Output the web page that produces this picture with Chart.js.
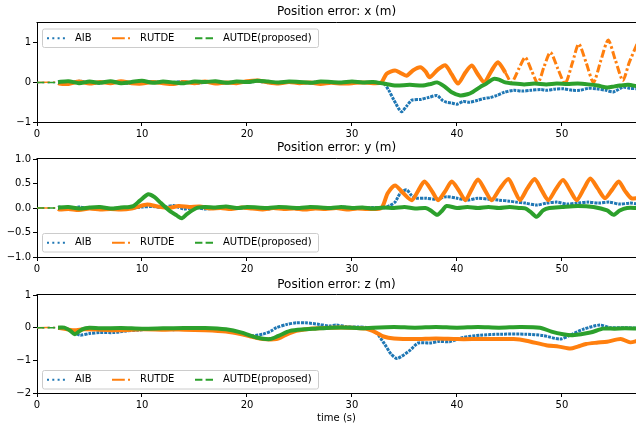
<!DOCTYPE html>
<html>
<head>
<meta charset="utf-8">
<script src="https://cdn.jsdelivr.net/npm/chart.js@4.4.0/dist/chart.umd.min.js"></script>
<style>
  html, body { margin: 0; padding: 0; background: #fff; overflow: hidden; }
  canvas { position: absolute; left: 0; }
</style>
</head>
<body>
<canvas id="panelX" width="636" height="140" style="top:0"></canvas>
<canvas id="panelY" width="636" height="137" style="top:140px"></canvas>
<canvas id="panelZ" width="636" height="151" style="top:277px"></canvas>
<script>
// ---- data (time s, error m) ----
const seriesNames = ['AIB', 'RUTDE', 'AUTDE(proposed)'];
const seriesColors = ['#1f77b4', '#ff7f0e', '#2ca02c'];
const panelTitles = ['Position error: x (m)', 'Position error: y (m)', 'Position error: z (m)'];
const xTicksStep = 10;
const timeMax = 57.05;

const xAIB = [[0,0],[2,0],[2.1,0.02],[3,-0.02],[4,0.03],[5,0],[6,-0.02],[7,0.02],[8,0],[9,-0.03],[10,0.01],[11,0.02],[12,-0.01],[13,0],[14,0.02],[15,-0.02],[16,0],[17,0.01],[18,-0.01],[19,0.02],[20,0],[21,0.03],[22,0],[23,-0.02],[24,0.01],[25,0],[26,-0.01],[27,0.02],[28,0],[29,-0.02],[30,0.01],[31,0],[32,0],[33,-0.02],[33.5,-0.2],[34,-0.45],[34.7,-0.74],[35.2,-0.6],[35.7,-0.45],[36.5,-0.43],[37.3,-0.38],[38.1,-0.33],[38.6,-0.45],[39,-0.5],[39.5,-0.52],[40,-0.55],[40.6,-0.48],[41.2,-0.5],[42,-0.45],[42.5,-0.41],[43.2,-0.38],[43.8,-0.33],[44.5,-0.25],[45.4,-0.2],[46.2,-0.22],[47,-0.2],[48,-0.18],[48.5,-0.2],[49.3,-0.17],[50.1,-0.16],[51,-0.2],[51.7,-0.2],[52.5,-0.15],[53.3,-0.16],[54.2,-0.2],[54.9,-0.24],[55.8,-0.12],[56.5,-0.15],[57.2,-0.16]];
const xRUTDE = [[0,0],[2,0],[2.1,-0.03],[3,-0.04],[4,0.02],[5,-0.03],[6,0.01],[7,-0.02],[8,0.03],[9,-0.02],[10,-0.03],[11,0.01],[12,-0.02],[13,-0.04],[14,0.01],[15,-0.02],[16,0.02],[17,-0.03],[18,0],[19,-0.02],[20,0.03],[21,0.05],[22,0],[23,-0.03],[24,0.01],[25,-0.02],[26,0],[27,-0.04],[28,-0.01],[29,-0.03],[30,-0.02],[31,0],[32,-0.02],[32.8,0],[33.3,0.22],[34.1,0.3],[34.6,0.24],[35.2,0.17],[35.8,0.3],[36.5,0.38],[37,0.28],[37.4,0.13],[38.2,0.33],[38.9,0.43],[39.5,0.2],[40.1,-0.03],[40.8,0.25],[41.4,0.43],[42,0.2],[42.6,0],[43.3,0.3],[43.9,0.51],[44.6,0.25],[45.2,0],[45.9,0.35],[46.5,0.63],[47.1,0.3],[47.7,-0.02],[48.3,0.4],[48.9,0.76],[49.6,0.35],[50.3,-0.03],[51,0.5],[51.6,0.97],[52.3,0.5],[53,0],[53.7,0.55],[54.4,1.07],[55.1,0.55],[55.8,0.05],[56.4,0.5],[57.2,1.0]];
const xAUTDE = [[0,0],[2,0],[2.1,0.01],[3,0.03],[4,-0.02],[5,0.02],[6,-0.01],[7,0.03],[8,-0.02],[9,0.01],[10,0.04],[11,-0.01],[12,0.02],[13,0],[14,-0.02],[15,0.02],[16,0.01],[17,0.03],[18,-0.01],[19,0.02],[20,0.01],[21,0.04],[22,0.02],[23,0],[24,0.02],[25,0.01],[26,-0.01],[27,0.02],[28,0.01],[29,0],[30,0.02],[31,0],[32,0.01],[33,-0.03],[34.2,-0.08],[35.5,-0.06],[36.7,-0.08],[37.5,-0.04],[38.1,0],[38.8,-0.1],[39.5,-0.25],[40.3,-0.33],[41,-0.3],[41.5,-0.24],[42.2,-0.12],[42.8,-0.03],[43.5,0.09],[44,0.07],[44.6,0],[45.4,-0.03],[46.4,-0.05],[47.4,-0.03],[48.5,-0.05],[49.5,-0.03],[50.5,-0.04],[51.5,-0.03],[52.5,-0.05],[53.4,-0.08],[54.3,-0.13],[55,-0.1],[55.5,-0.08],[56.3,-0.06],[57.2,-0.1]];

const yAIB = [[0,0],[2,0],[2.1,0.02],[3,-0.02],[4,0.02],[5,-0.01],[6,0.01],[7,-0.02],[8,0.01],[9,0],[10,0.02],[11,0.03],[12,0.01],[13,0.05],[14,-0.02],[15,0.01],[16,-0.02],[17,0],[18,0.02],[19,-0.01],[20,0.01],[21,0],[22,-0.02],[23,0.01],[24,0],[25,-0.02],[26,0.01],[27,0],[28,-0.01],[29,0.02],[30,0],[31,-0.01],[32,0.01],[33,0],[33.6,0.05],[34.1,0.12],[34.6,0.3],[35.2,0.37],[35.7,0.25],[36.1,0.2],[37,0.2],[38,0.18],[39,0.23],[40,0.2],[41,0.16],[42,0.2],[43,0.18],[44,0.16],[45,0.14],[45.6,0.12],[46.5,0.1],[47.6,0.06],[48.5,0.1],[49.5,0.12],[50.5,0.08],[51.5,0.1],[52.5,0.12],[53.5,0.1],[54.5,0.12],[55.5,0.08],[56.5,0.1],[57.2,0.08]];
const yRUTDE = [[0,0],[2,0],[2.1,-0.03],[3,-0.02],[4,-0.04],[5,-0.01],[6,-0.03],[7,-0.02],[8,-0.03],[9,-0.01],[9.5,0.02],[10.5,0.07],[11.5,0.03],[12.5,0],[13.5,0.04],[14.5,0.02],[15.5,0.03],[16.5,-0.01],[17.5,0],[18.5,-0.02],[19.5,0.01],[20.5,-0.01],[21.5,-0.03],[22.5,0],[23.5,-0.02],[24.5,-0.01],[25.5,-0.03],[26.5,-0.01],[27.5,-0.02],[28.5,0],[29.5,-0.03],[30.5,-0.01],[31.5,-0.02],[32.8,0],[33.4,0.3],[34.1,0.46],[34.9,0.3],[35.7,0.16],[36.3,0.35],[36.9,0.54],[37.6,0.35],[38.2,0.16],[38.9,0.35],[39.5,0.54],[40.2,0.35],[40.8,0.16],[41.4,0.38],[42,0.58],[42.7,0.35],[43.3,0.16],[44.1,0.4],[44.9,0.59],[45.5,0.35],[46,0.16],[46.7,0.4],[47.4,0.59],[48.1,0.35],[48.7,0.16],[49.4,0.38],[50.1,0.57],[50.8,0.35],[51.4,0.16],[52.1,0.4],[52.7,0.6],[53.4,0.4],[54.1,0.2],[54.8,0.38],[55.4,0.54],[56,0.35],[56.6,0.2],[57.2,0.2]];
const yAUTDE = [[0,0],[2,0],[2.1,0.01],[3,0.02],[4,-0.01],[5,0.01],[6,0.02],[7,-0.01],[8,0.01],[8.8,0.02],[9.2,0.04],[9.8,0.15],[10.6,0.28],[11.2,0.22],[11.8,0.1],[12.7,-0.07],[13.3,-0.15],[13.8,-0.21],[14.3,-0.12],[15.2,0],[16,0.02],[17,0.01],[18,0.03],[19,0],[20,0.02],[21,0.01],[22,0],[23,0.02],[24,0.01],[25,0],[26,0.02],[27,0.01],[28,0],[29,0.02],[30,0],[31,0.01],[32,-0.01],[33,0.01],[34,0],[35,0.02],[36,-0.01],[37,0],[37.5,-0.05],[38.1,-0.14],[38.6,-0.05],[39,0.04],[40,0],[41,0.02],[42,0],[43,0.02],[44,0],[45,0.02],[46,0],[46.5,-0.01],[47,-0.08],[47.6,-0.18],[48.2,-0.05],[48.8,0],[50,0.02],[51.5,0.04],[53,0.02],[54.3,-0.05],[54.9,-0.14],[55.5,-0.05],[56.2,0],[57.2,0]];

const zAIB = [[0,0],[2,0],[2.5,-0.02],[3,-0.05],[3.6,-0.15],[4.1,-0.23],[5,-0.18],[6,-0.15],[7.3,-0.15],[8.5,-0.1],[9.5,-0.08],[10.5,-0.05],[12,-0.05],[13,-0.06],[14,-0.04],[15,-0.05],[16,-0.03],[17,-0.05],[18,-0.08],[19,-0.15],[20.3,-0.25],[21.5,-0.2],[22.3,-0.1],[22.8,0],[23.8,0.1],[24.7,0.15],[25.6,0.15],[26.9,0.1],[27.8,0.05],[28.5,0.08],[29.5,0.03],[30.5,0.02],[31.4,0],[32.3,-0.15],[33.1,-0.5],[33.7,-0.8],[34.3,-0.94],[35.5,-0.7],[36.3,-0.47],[37.4,-0.47],[38.3,-0.42],[39.3,-0.43],[40.6,-0.3],[42.2,-0.23],[44.1,-0.2],[46.6,-0.2],[48.2,-0.24],[49.8,-0.35],[50.7,-0.24],[52,-0.05],[53.6,0.08],[54.6,0],[56,0],[57.2,-0.02]];
const zRUTDE = [[0,0],[2,0],[2.5,-0.03],[3.5,-0.08],[4.5,-0.05],[6,-0.06],[8,-0.08],[10,-0.05],[12,-0.06],[14,-0.06],[16,-0.08],[18,-0.12],[19.5,-0.2],[20.5,-0.28],[21.5,-0.35],[22.8,-0.35],[23.7,-0.22],[24.7,-0.1],[26,-0.03],[28,0],[30,0],[31.3,-0.03],[32.3,-0.15],[33,-0.27],[34,-0.33],[36,-0.35],[38,-0.33],[40,-0.35],[42,-0.35],[44,-0.35],[45.4,-0.35],[46.6,-0.4],[48.5,-0.54],[49.7,-0.58],[50.8,-0.64],[51.5,-0.58],[52.3,-0.5],[53.3,-0.46],[54.3,-0.43],[55.6,-0.35],[56.5,-0.45],[57.2,-0.4]];
const zAUTDE = [[0,0],[2,0],[2.6,0],[3.2,-0.1],[3.6,-0.2],[4.3,-0.05],[5,0],[6,-0.02],[8,-0.01],[10,-0.03],[12,-0.02],[14,-0.01],[16,-0.01],[18,-0.05],[19.5,-0.15],[20.9,-0.3],[22.2,-0.35],[23,-0.25],[24.1,-0.1],[25.5,-0.05],[26.5,-0.03],[28,0],[30,0],[31,-0.02],[32,0],[34,0.02],[36,0],[38,0.02],[40,0],[42,0.02],[44,0],[46,0.02],[47.9,0],[49,-0.12],[50.1,-0.2],[51,-0.23],[52.7,-0.15],[53.9,-0.03],[55,-0.03],[56,-0.02],[57.2,-0.03]];

// line styles, matplotlib ':' '-.' '--'
const DASHES = [[2, 3.3], [12.8, 3.2, 2, 3.2], [7.4, 3.2]];
// speckled look of the noisy traces
const BAND_DASH = [[3, 1], [], []];
const BAND_WIDTH = [3, 4, 4];
const FONT = '"DejaVu Sans", sans-serif';

const minus = s => String(s).replace('-', '\u2212');

// titles, top spine, legend and x label drawn on top
const decorPlugin = {
    id: 'decor',
    afterDraw(chart, args, opts) {
        const ctx = chart.ctx;
        const a = chart.chartArea;
        ctx.save();
        // top spine
        ctx.strokeStyle = '#000';
        ctx.lineWidth = 1;
        ctx.beginPath();
        ctx.moveTo(a.left - 0.5, a.top - 0.5);
        ctx.lineTo(a.right + 1, a.top - 0.5);
        ctx.stroke();

        ctx.fillStyle = '#000';
        ctx.textBaseline = 'middle';
        ctx.textAlign = 'center';
        ctx.font = '12px ' + FONT;
        ctx.fillText(opts.title, 336.5, opts.titleY);
        if (opts.xLabel) {
            ctx.font = '10px ' + FONT;
            ctx.fillText(opts.xLabel, 336.5, opts.xLabelY);
        }

        // legend frame
        const top = opts.legendTop, h = 18.5;
        ctx.beginPath();
        ctx.roundRect(42.5, top + 0.5, 276, h, 2);
        ctx.fillStyle = 'rgba(255,255,255,0.8)';
        ctx.fill();
        ctx.strokeStyle = '#cccccc';
        ctx.stroke();

        const cy = top + 0.5 + h / 2;
        const handleX = [47, 112, 195];
        const textX = [75, 140, 223];
        ctx.font = '10px ' + FONT;
        ctx.textAlign = 'left';
        seriesNames.forEach((name, i) => {
            ctx.strokeStyle = seriesColors[i];
            ctx.lineWidth = 2;
            ctx.setLineDash(DASHES[i]);
            ctx.beginPath();
            ctx.moveTo(handleX[i], cy);
            ctx.lineTo(handleX[i] + 20, cy);
            ctx.stroke();
            ctx.setLineDash([]);
            ctx.fillStyle = '#000';
            ctx.fillText(name, textX[i], cy);
        });
        ctx.restore();
    }
};

function makeDataset(points, i, steepDash) {
    const steep = c => steepDash && c.p0.parsed.x >= steepDash;
    return {
        label: seriesNames[i],
        data: points.map(p => ({ x: p[0], y: p[1] })),
        borderColor: seriesColors[i],
        borderWidth: BAND_WIDTH[i],
        borderDash: BAND_DASH[i],
        pointRadius: 0,
        tension: 0.25,
        order: 3 - i,
        segment: {
            borderDash: c => {
                if (c.p1.parsed.x <= 2) return DASHES[i];
                if (steep(c)) return [8, 2.5, 2.5, 2.5];
                return undefined;
            },
            borderWidth: c => (c.p1.parsed.x <= 2 ? 1.5 : (steep(c) ? 3 : undefined))
        }
    };
}

function makePanel(id, sets, yCfg, decor, padTop, xAxisH) {
    return new Chart(document.getElementById(id), {
        type: 'line',
        data: { datasets: sets },
        options: {
            responsive: false,
            animation: false,
            devicePixelRatio: 1,
            layout: { padding: { top: padTop, left: 0, right: 0, bottom: 0 } },
            plugins: { legend: { display: false }, tooltip: { enabled: false }, decor: decor },
            scales: {
                x: {
                    type: 'linear',
                    min: 0,
                    max: timeMax,
                    ticks: {
                        stepSize: xTicksStep, includeBounds: false, maxRotation: 0, autoSkip: false,
                        padding: 2, color: '#000', font: { size: 10, family: FONT }
                    },
                    grid: { drawOnChartArea: false, tickLength: 4, tickColor: '#000' },
                    border: { color: '#000', width: 1 },
                    afterFit: s => { s.height = xAxisH; }
                },
                y: {
                    min: yCfg.min,
                    max: yCfg.max,
                    ticks: {
                        stepSize: yCfg.step, includeBounds: false, autoSkip: false,
                        padding: 2, color: '#000', font: { size: 10, family: FONT },
                        callback: v => minus(yCfg.digits ? v.toFixed(yCfg.digits) : v)
                    },
                    grid: { drawOnChartArea: false, tickLength: 4, tickColor: '#000' },
                    border: { color: '#000', width: 1 },
                    afterFit: s => { s.width = 37; }
                }
            }
        },
        plugins: [decorPlugin]
    });
}

makePanel('panelX',
    [makeDataset(xAIB, 0), makeDataset(xRUTDE, 1, 44.5), makeDataset(xAUTDE, 2)],
    { min: -1, max: 1.5, step: 1, digits: 0 },
    { title: panelTitles[0], titleY: 12, legendTop: 28.5 },
    23, 18);

makePanel('panelY',
    [makeDataset(yAIB, 0), makeDataset(yRUTDE, 1), makeDataset(yAUTDE, 2)],
    { min: -1, max: 1, step: 0.5, digits: 1 },
    { title: panelTitles[1], titleY: 8, legendTop: 93 },
    19, 20);

makePanel('panelZ',
    [makeDataset(zAIB, 0), makeDataset(zRUTDE, 1), makeDataset(zAUTDE, 2)],
    { min: -2, max: 1, step: 1, digits: 0 },
    { title: panelTitles[2], titleY: 8, legendTop: 93, xLabel: 'time (s)', xLabelY: 141 },
    18, 35);
</script>
</body>
</html>
